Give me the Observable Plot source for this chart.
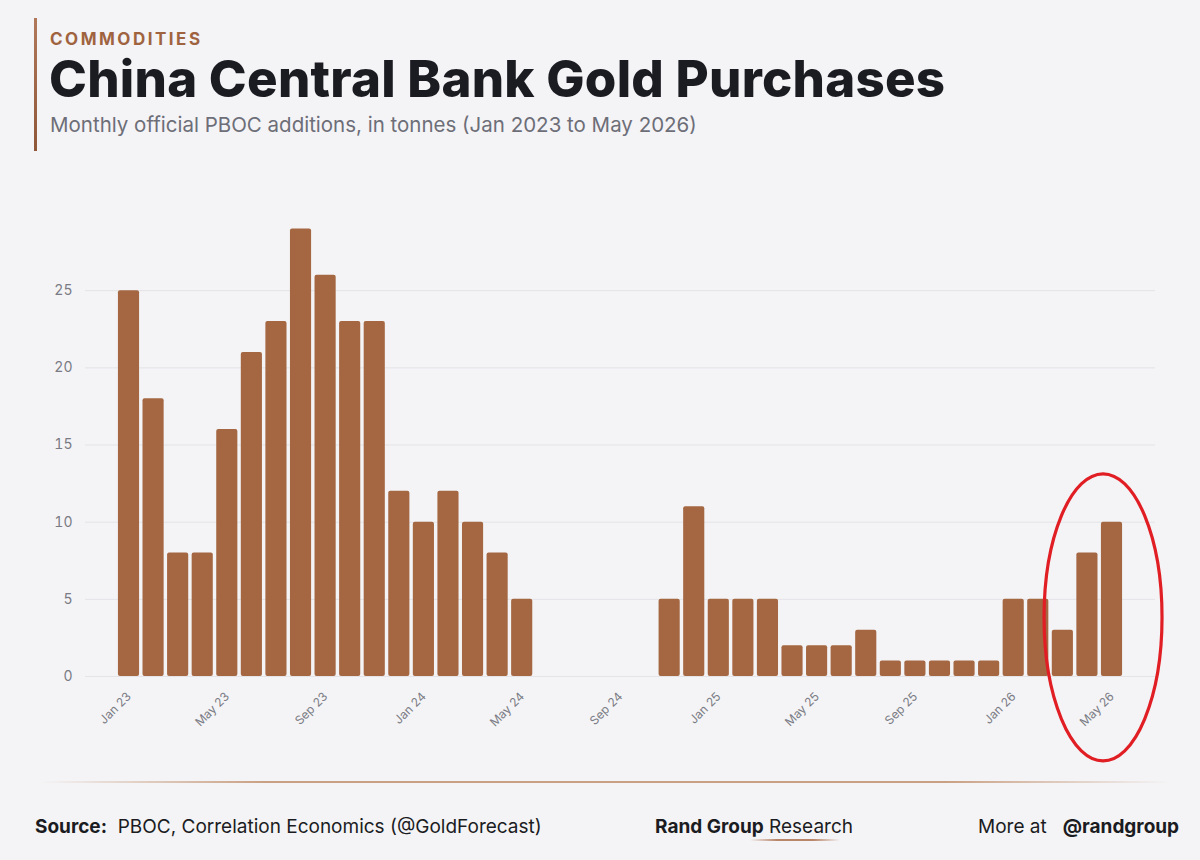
<!DOCTYPE html>
<html>
<head>
<meta charset="utf-8">
<script src="https://cdn.jsdelivr.net/npm/d3@7"></script>
<script src="https://cdn.jsdelivr.net/npm/@observablehq/plot@0.6"></script>
<style>
  html, body { margin: 0; padding: 0; background: #f4f4f6; }
  body { width: 1200px; height: 860px; position: relative; overflow: hidden; font-family: Inter, "Noto Sans", sans-serif; }
  .abs { position: absolute; white-space: nowrap; line-height: 1; }
  #accent { left: 34px; top: 18px; width: 3px; height: 133px; background: linear-gradient(#b07a5a, #8e5738); }
  #kicker { left: 50px; top: 31px; font-size: 17px; font-weight: 700; letter-spacing: 2.5px; color: #a0633f; }
  #title { left: 49px; top: 53px; font-size: 51px; font-weight: 800; color: #1b1c22; letter-spacing: 0.25px; }
  #subtitle { left: 50px; top: 115px; font-size: 20.5px; font-weight: 400; color: #6d6e78; }
  #chart { left: 0; top: 180px; }
  #rule { left: 40px; top: 781px; width: 1130px; height: 1.5px; background: linear-gradient(90deg, rgba(200,160,135,0), #c9a083 20%, #c9a083 80%, rgba(200,160,135,0)); }
  .foot { top: 817px; font-size: 19px; color: #1b1c22; }
  #source { left: 35px; }
  #brand { left: 655px; }
  #more { left: 978px; }
  #underline { left: 750px; top: 839px; width: 90px; height: 2px; background: linear-gradient(90deg, rgba(190,140,110,0), #b9866a 30%, #b9866a 70%, rgba(190,140,110,0)); }
  b { font-weight: 700; }
</style>
</head>
<body>
<div id="accent" class="abs"></div>
<div id="kicker" class="abs">COMMODITIES</div>
<div id="title" class="abs">China Central Bank Gold Purchases</div>
<div id="subtitle" class="abs">Monthly official PBOC additions, in tonnes (Jan 2023 to May 2026)</div>
<div id="chart" class="abs"></div>
<div id="rule" class="abs"></div>
<div id="source" class="abs foot"><b>Source:</b>&nbsp; PBOC, Correlation Economics (@GoldForecast)</div>
<div id="brand" class="abs foot"><b>Rand Group</b> Research</div>
<div id="underline" class="abs"></div>
<div id="more" class="abs foot">More at&nbsp;&nbsp; <b>@randgroup</b></div>
<script>
// ---- data ----
const months = [
  "Jan 23","Feb 23","Mar 23","Apr 23","May 23","Jun 23","Jul 23","Aug 23","Sep 23","Oct 23","Nov 23","Dec 23",
  "Jan 24","Feb 24","Mar 24","Apr 24","May 24","Jun 24","Jul 24","Aug 24","Sep 24","Oct 24","Nov 24","Dec 24",
  "Jan 25","Feb 25","Mar 25","Apr 25","May 25","Jun 25","Jul 25","Aug 25","Sep 25","Oct 25","Nov 25","Dec 25",
  "Jan 26","Feb 26","Mar 26","Apr 26","May 26"
];
const tonnes = [
  25, 18, 8, 8, 16, 21, 23, 29, 26, 23, 23, 12,
  10, 12, 10, 8, 5, 0, 0, 0, 0, 0, 5, 11,
  5, 5, 5, 2, 2, 2, 3, 1, 1, 1, 1, 1,
  5, 5, 3, 8, 10
];
const xTickLabels = ["Jan 23","May 23","Sep 23","Jan 24","May 24","Sep 24","Jan 25","May 25","Sep 25","Jan 26","May 26"];
const yTicks = [0, 5, 10, 15, 20, 25];
// highlight annotation (around the latest months)
const highlightMonth = "May 26";
const highlightCenterValue = 3.8;
const highlightHalfHeightValue = 9.3;
const highlightHalfWidthSteps = 2.4;

const data = months.map((m, i) => ({month: m, value: tonnes[i]}));

function ellipseMark(index, scales) {
  const sx = scales.x, sy = scales.y;
  let bw;
  if (typeof sx.bandwidth === "function") bw = sx.bandwidth();
  else if (typeof sx.bandwidth === "number") bw = sx.bandwidth;
  const step = sx(months[1]) - sx(months[0]);
  if (bw == null) bw = step * 0.86;
  const cx = sx(highlightMonth) + bw * 0.1;
  const cy = sy(highlightCenterValue);
  const ry = sy(0) - sy(highlightHalfHeightValue);
  const rx = step * highlightHalfWidthSteps;
  const ns = "http://www.w3.org/2000/svg";
  const e = document.createElementNS(ns, "ellipse");
  e.setAttribute("cx", cx); e.setAttribute("cy", cy);
  e.setAttribute("rx", rx); e.setAttribute("ry", ry);
  e.setAttribute("fill", "none");
  e.setAttribute("stroke", "#e01e24");
  e.setAttribute("stroke-width", 3.2);
  const g = document.createElementNS(ns, "g");
  g.appendChild(e);
  return g;
}

const chart = Plot.plot({
  width: 1200,
  height: 590,
  marginLeft: 85,
  marginRight: 45,
  marginTop: 33,
  marginBottom: 94,
  style: { background: "transparent", fontFamily: "Inter, 'Noto Sans', sans-serif", fontSize: "14px", color: "#7a7b84", overflow: "visible" },
  x: {
    domain: months,
    round: false,
    paddingInner: 0.14,
    paddingOuter: 1.34,
    ticks: xTickLabels,
    tickFormat: d => xTickLabels.includes(d) ? d : "",
    tickRotate: -45,
    tickSize: 0,
    tickPadding: 18,
    label: null
  },
  y: {
    domain: [0, 30],
    ticks: yTicks,
    tickSize: 0,
    tickPadding: 13,
    label: null
  },
  marks: [
    Plot.ruleY(yTicks, {stroke: "#e3e3e8", strokeWidth: 1}),
    Plot.barY(data, {x: "month", y: "value", fill: "#a46742", rx: 2}),
    ellipseMark
  ]
});
chart.style.overflow = "visible";
chart.querySelectorAll("g[aria-label='x-axis tick label'] text, g[aria-label='x-axis'] text").forEach(t => t.style.fontSize = "12px");
document.getElementById("chart").appendChild(chart);
</script>
</body>
</html>
